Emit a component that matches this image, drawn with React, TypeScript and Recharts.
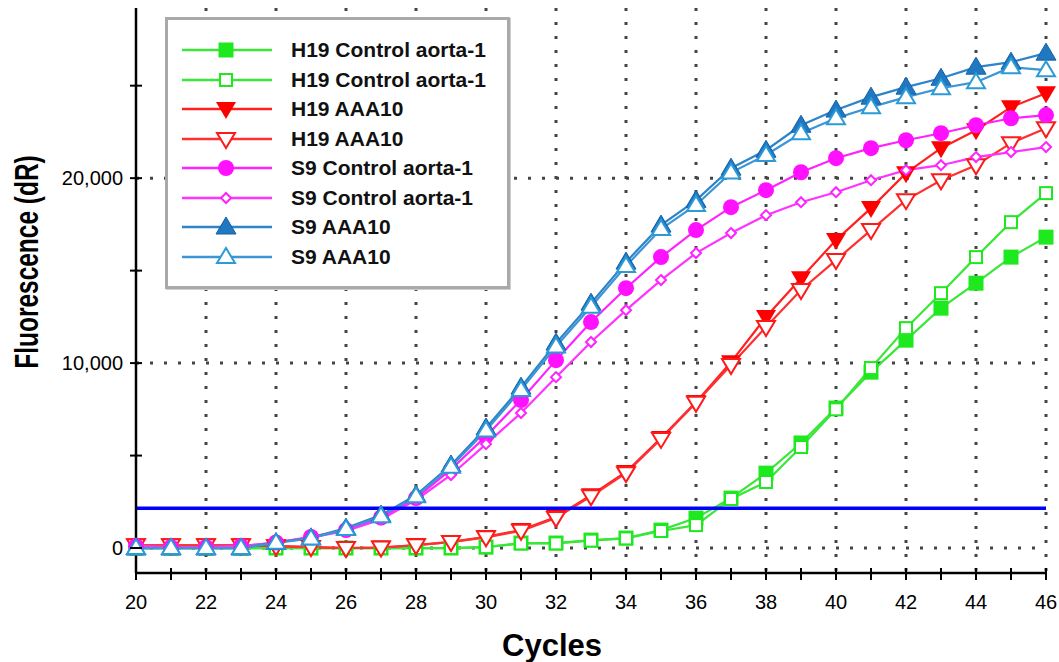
import { LineChart, Line, XAxis, YAxis, CartesianGrid, ReferenceLine, Legend } from "recharts";

const cycles = [20, 21, 22, 23, 24, 25, 26, 27, 28, 29, 30, 31, 32, 33, 34, 35, 36, 37, 38, 39, 40, 41, 42, 43, 44, 45, 46];

// H19 Control aorta-1 (two replicates)
const h19CtrlFilled = [0, 0, 0, 0, 0, 0, 0, 0, 0, 0, 50, 270, 270, 430, 540, 970, 1620, 2700, 4050, 5680, 7570, 9510, 11240, 12970, 14320, 15730, 16810];
const h19CtrlOpen = [0, 0, 0, 0, 0, 0, 0, 0, 0, 0, 50, 250, 250, 400, 520, 920, 1240, 2650, 3570, 5460, 7500, 9730, 11890, 13780, 15730, 17620, 19190];
// H19 AAA10
const h19AaaFilled = [150, 150, 150, 150, 100, 50, 0, 30, 160, 330, 600, 970, 1680, 2860, 4110, 5950, 7890, 10050, 12490, 14590, 16650, 18380, 20270, 21620, 22590, 23840, 24590];
const h19AaaOpen = [150, 150, 150, 150, 100, 50, 0, 30, 150, 320, 580, 930, 1630, 2800, 4050, 5900, 7850, 9900, 11950, 13950, 15570, 17190, 18810, 19890, 20700, 21890, 22700];
// S9 Control aorta-1
const s9CtrlFilled = [100, 50, 50, 100, 300, 600, 970, 1650, 2700, 4250, 6050, 8000, 10160, 12220, 14050, 15730, 17190, 18430, 19350, 20320, 21080, 21620, 22050, 22430, 22860, 23240, 23410];
const s9CtrlOpen = [100, 50, 50, 100, 300, 580, 920, 1550, 2600, 3950, 5620, 7300, 9240, 11140, 12860, 14490, 15950, 17030, 18000, 18700, 19240, 19890, 20430, 20700, 21140, 21410, 21680];
// S9 AAA10
const s9AaaFilled = [0, 0, 0, 0, 300, 550, 1080, 1780, 2860, 4490, 6490, 8700, 11080, 13240, 15460, 17460, 18800, 20540, 21510, 22860, 23680, 24380, 24920, 25400, 26000, 26270, 26760];
const s9AaaOpen = [0, 0, 0, 0, 280, 520, 1030, 1720, 2800, 4400, 6350, 8550, 10900, 13050, 15250, 17250, 18550, 20300, 21250, 22430, 23240, 23840, 24380, 24860, 25190, 26000, 25840];

const threshold = 2150;

const yTicks = [0, 5000, 10000, 15000, 20000, 25000];
const yLabelled = [0, 10000, 20000];
const gridY = [0, 10000, 20000];
const gridX = [22, 24, 26, 28, 30, 32, 34, 36, 38, 40, 42, 44, 46];

const FONT = "'Liberation Sans', Arial, Helvetica, sans-serif";

const data = cycles.map((c, i) => ({
  cycle: c,
  h19cf: h19CtrlFilled[i],
  h19co: h19CtrlOpen[i],
  h19af: h19AaaFilled[i],
  h19ao: h19AaaOpen[i],
  s9cf: s9CtrlFilled[i],
  s9co: s9CtrlOpen[i],
  s9af: s9AaaFilled[i],
  s9ao: s9AaaOpen[i],
}));

type Shape = "sqF" | "sqO" | "triDF" | "triDO" | "cirF" | "diaO" | "triUF" | "triUO";

const drawMarker = (shape: Shape, cx: number, cy: number, color: string, edge: string, key?: any) => {
  switch (shape) {
    case "sqF":
      return <rect key={key} x={cx - 7.5} y={cy - 7.5} width={15} height={15} fill={color} />;
    case "sqO":
      return <rect key={key} x={cx - 6} y={cy - 6} width={12} height={12} fill="#fff" stroke={color} strokeWidth={2} />;
    case "triDF":
      return <polygon key={key} points={`${cx - 10},${cy - 7} ${cx + 10},${cy - 7} ${cx},${cy + 10}`} fill={color} />;
    case "triDO":
      return <polygon key={key} points={`${cx - 9},${cy - 6} ${cx + 9},${cy - 6} ${cx},${cy + 9}`} fill="#fff" stroke={color} strokeWidth={2} />;
    case "cirF":
      return <circle key={key} cx={cx} cy={cy} r={8} fill={color} />;
    case "diaO":
      return <polygon key={key} points={`${cx},${cy - 5} ${cx + 5},${cy} ${cx},${cy + 5} ${cx - 5},${cy}`} fill="#fff" stroke={color} strokeWidth={2} />;
    case "triUF":
      return <polygon key={key} points={`${cx},${cy - 10} ${cx + 10},${cy + 7} ${cx - 10},${cy + 7}`} fill={color} stroke={edge} strokeWidth={1} />;
    case "triUO":
      return <polygon key={key} points={`${cx},${cy - 9} ${cx + 9},${cy + 6} ${cx - 9},${cy + 6}`} fill="#fff" stroke={color} strokeWidth={2} />;
  }
};

const series: { key: string; name: string; line: string; color: string; edge: string; shape: Shape }[] = [
  { key: "h19cf", name: "H19 Control aorta-1", line: "#3ae63a", color: "#1ee81e", edge: "#1ee81e", shape: "sqF" },
  { key: "h19co", name: "H19 Control aorta-1", line: "#3ae63a", color: "#1ee81e", edge: "#1ee81e", shape: "sqO" },
  { key: "h19af", name: "H19 AAA10", line: "#ff2020", color: "#ff0000", edge: "#ff0000", shape: "triDF" },
  { key: "h19ao", name: "H19 AAA10", line: "#ff3030", color: "#ff1a1a", edge: "#ff1a1a", shape: "triDO" },
  { key: "s9cf", name: "S9 Control aorta-1", line: "#ff22ff", color: "#ff10ff", edge: "#ff10ff", shape: "cirF" },
  { key: "s9co", name: "S9 Control aorta-1", line: "#ff33ff", color: "#ff22ff", edge: "#ff22ff", shape: "diaO" },
  { key: "s9af", name: "S9 AAA10", line: "#2d84c8", color: "#1f78c0", edge: "#145fa8", shape: "triUF" },
  { key: "s9ao", name: "S9 AAA10", line: "#3b95d6", color: "#2b9ad6", edge: "#2b9ad6", shape: "triUO" },
];

const XTick = (props: any) => {
  const { x, y, payload } = props;
  const v = payload.value;
  return (
    <g>
      <line x1={x} x2={x} y1={y - 5} y2={y + 7} stroke="#000" strokeWidth={2} />
      {v % 2 === 0 && (
        <text x={x} y={y + 36} textAnchor="middle" fontSize={20} fontFamily={FONT} fill="#000">
          {v}
        </text>
      )}
    </g>
  );
};

const YTick = (props: any) => {
  const { x, y, payload } = props;
  const v = payload.value;
  return (
    <g>
      <line x1={x - 6} x2={x + 6} y1={y} y2={y} stroke="#000" strokeWidth={2} />
      {yLabelled.includes(v) && (
        <text x={x - 13} y={y + 7} textAnchor="end" fontSize={20} fontFamily={FONT} fill="#000">
          {v.toLocaleString("en-US")}
        </text>
      )}
    </g>
  );
};

const LegendBox = () => (
  <div
    style={{
      width: 345,
      height: 272,
      boxSizing: "border-box",
      border: "3px solid #a9a9a9",
      boxShadow: "1px 1px 0 #cfcfcf",
      background: "#fff",
      position: "relative",
      fontFamily: FONT,
    }}
  >
    {series.map((s, i) => (
      <div key={s.key} style={{ position: "absolute", left: 12, top: 15 + i * 29.5, height: 30, display: "flex", alignItems: "center" }}>
        <svg width={94} height={30}>
          <line x1={2} x2={92} y1={15} y2={15} stroke={s.line} strokeWidth={2.5} />
          {drawMarker(s.shape, 46, 15, s.color, s.edge)}
        </svg>
        <span style={{ marginLeft: 17, fontSize: 21, fontWeight: "bold", color: "#111", whiteSpace: "nowrap" }}>{s.name}</span>
      </div>
    ))}
  </div>
);

export default function App() {
  return (
    <div style={{ position: "absolute", left: 0, top: 0, width: 1059, height: 662, background: "#fff", overflow: "hidden" }}>
      <LineChart width={1059} height={662} data={data} margin={{ top: 8, right: 13, left: 76, bottom: 0 }}>
        <CartesianGrid
          horizontalValues={gridY}
          verticalValues={gridX}
          stroke="#444"
          strokeWidth={3}
          strokeDasharray="3 11"
        />
        <XAxis
          dataKey="cycle"
          type="number"
          domain={[20, 46]}
          ticks={cycles}
          interval={0}
          height={89}
          tickSize={0}
          tickMargin={0}
          tickLine={false}
          tick={<XTick />}
          axisLine={{ stroke: "#000", strokeWidth: 2.5 }}
          label={{
            content: () => (
              <text x={552} y={656} textAnchor="middle" fontSize={31} fontWeight="bold" fontFamily={FONT} fill="#000">
                Cycles
              </text>
            ),
          }}
        />
        <YAxis
          type="number"
          domain={[-1350, 29200]}
          ticks={yTicks}
          interval={0}
          width={60}
          tickSize={0}
          tickMargin={0}
          tickLine={false}
          tick={<YTick />}
          axisLine={{ stroke: "#000", strokeWidth: 2.5 }}
          label={{
            content: () => (
              <text
                transform="translate(38,262) rotate(-90) scale(0.72,1)"
                textAnchor="middle"
                fontSize={34}
                fontWeight="bold"
                fontFamily={FONT}
                fill="#000"
              >
                Fluorescence (dR)
              </text>
            ),
          }}
        />
        {series.map((s) => (
          <Line
            key={s.key}
            dataKey={s.key}
            name={s.name}
            stroke={s.line}
            strokeWidth={2.2}
            isAnimationActive={false}
            dot={(p: any) => drawMarker(s.shape, p.cx, p.cy, s.color, s.edge, p.index)}
            activeDot={false}
          />
        ))}
        <ReferenceLine y={threshold} stroke="#0000ff" strokeWidth={3.5} />
        <Legend
          layout="vertical"
          align="center"
          verticalAlign="middle"
          content={() => <LegendBox />}
          wrapperStyle={{ left: 165, top: 17, width: 345, height: 272 }}
        />
      </LineChart>
    </div>
  );
}
